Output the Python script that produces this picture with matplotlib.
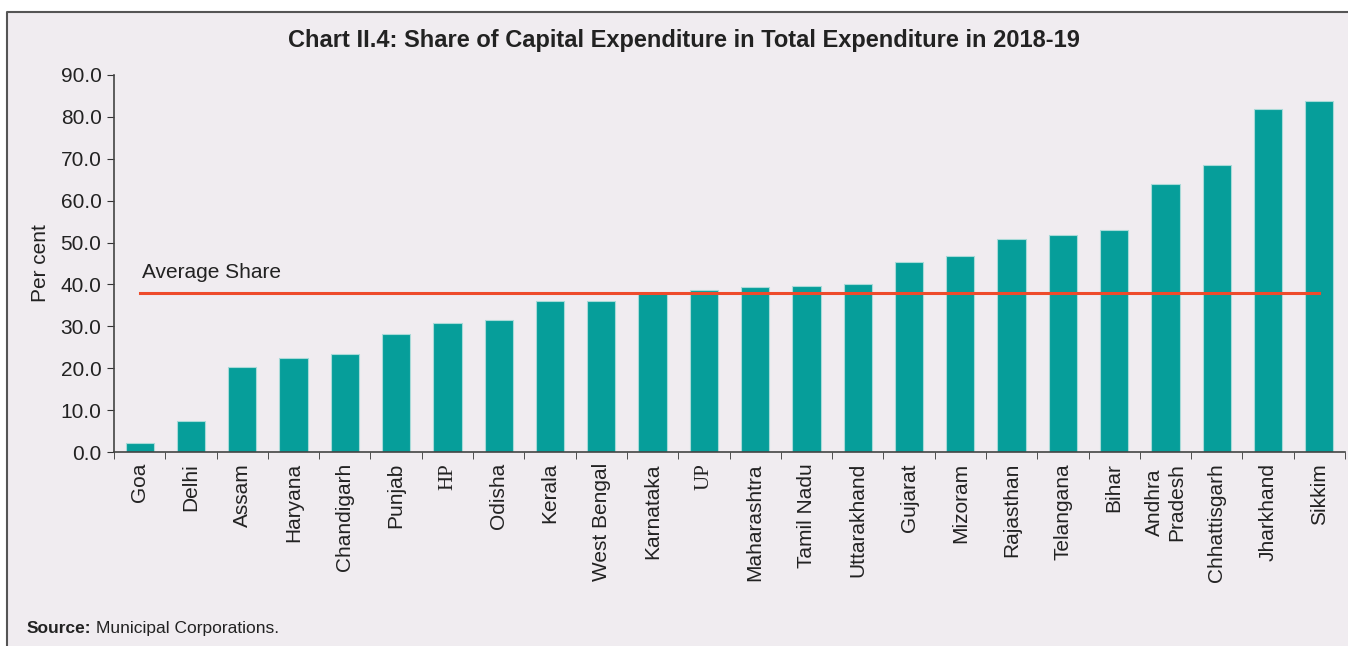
import numpy as np
import matplotlib.pyplot as plt
from matplotlib.patches import Rectangle
from matplotlib.lines import Line2D

states = ["Goa", "Delhi", "Assam", "Haryana", "Chandigarh", "Punjab", "HP",
          "Odisha", "Kerala", "West Bengal", "Karnataka", "UP", "Maharashtra",
          "Tamil Nadu", "Uttarakhand", "Gujarat", "Mizoram", "Rajasthan",
          "Telangana", "Bihar", "Andhra\nPradesh", "Chhattisgarh", "Jharkhand",
          "Sikkim"]
share = [2.2, 7.3, 20.2, 22.5, 23.4, 28.1, 30.7, 31.6, 36.0, 36.1, 38.0, 38.6,
         39.4, 39.7, 40.1, 45.3, 46.9, 50.8, 51.7, 53.0, 64.0, 68.5, 81.8, 83.9]
avg_share = 37.9
yticks = [0, 10, 20, 30, 40, 50, 60, 70, 80, 90]

plt.rcParams['font.family'] = ['Liberation Sans', 'DejaVu Sans']

W, H = 1348, 646
bg = '#F0ECF0'
fig = plt.figure(figsize=(W/100, H/100), dpi=100, facecolor='white')
fig.patches.append(Rectangle((7/W, 0), 1, (H-12)/H, transform=fig.transFigure,
                             facecolor=bg, edgecolor='none', zorder=-10))
fig.lines.append(Line2D([7/W, 7/W, 1], [0, (H-12)/H, (H-12)/H],
                        transform=fig.transFigure, color='#555555', lw=1.5))

ax = fig.add_axes([114/W, (H-452)/H, (1345-114)/W, (452-75)/H])
ax.set_facecolor('none')

x = np.arange(len(states))
ax.bar(x, share, width=0.55, color='#069E9A', edgecolor='#A8DAD8', linewidth=0.8, zorder=2)
ax.plot([x[0], x[-1]], [avg_share, avg_share], color='#EE4B2B', lw=2.2, zorder=3)
ax.text(0.05, avg_share + 2.6, "Average Share", fontsize=15, color='#222222', va='bottom')

ax.set_xlim(-0.5, len(states) - 0.5)
ax.set_ylim(0, 90)
ax.set_yticks(yticks)
ax.set_yticklabels(["%.1f" % v for v in yticks], fontsize=15, color='#222222')
ax.set_xticks(x)
ax.set_xticklabels(states, rotation=90, fontsize=15, color='#222222', va='top',
                   ha='center', multialignment='center')
for lab in ax.get_xticklabels():
    if lab.get_text() in ("HP", "UP"):
        lab.set_family('Liberation Serif')
ax.set_xticks(np.arange(-0.5, len(states)), minor=True)
ax.tick_params(axis='x', which='major', length=0, pad=8)
ax.tick_params(axis='x', which='minor', length=5, color='#333333')
ax.tick_params(axis='y', length=5, color='#333333', pad=4)

for s in ['top', 'right']:
    ax.spines[s].set_visible(False)
for s in ['left', 'bottom']:
    ax.spines[s].set_color('#444444')
    ax.spines[s].set_linewidth(1.2)

ax.set_ylabel("Per cent", fontsize=15, color='#222222', labelpad=8)

fig.text(684/W, (H-40)/H, "Chart II.4: Share of Capital Expenditure in Total Expenditure in 2018-19",
         fontsize=17, fontweight='bold', ha='center', va='center', color='#222222')

renderer = fig.canvas.get_renderer()
src = fig.text(27/W, (H-633)/H, "Source:", fontsize=12.5, fontweight='bold', va='baseline',
               color='#222222')
bb = src.get_window_extent(renderer=renderer)
fig.text(bb.x1/W + 4/W, (H-633)/H, "Municipal Corporations.", fontsize=12.5, va='baseline',
         color='#222222')

fig.savefig("out.png", dpi=100, facecolor=fig.get_facecolor())
